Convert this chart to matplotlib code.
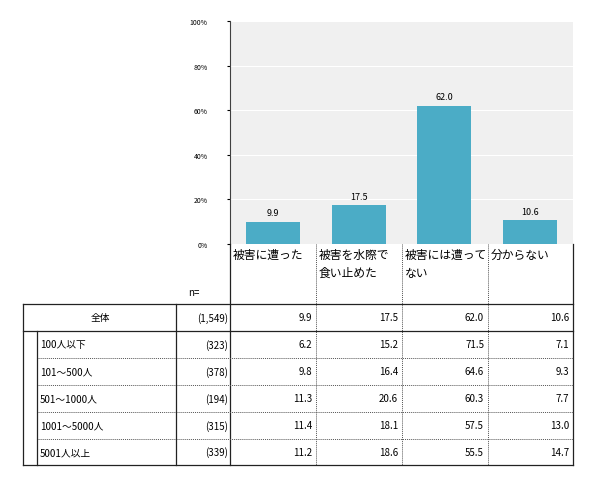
import matplotlib.pyplot as plt

plt.rcParams['font.family'] = ['Noto Sans CJK JP', 'DejaVu Sans']

categories = ['被害に遭った', '被害を水際で\n食い止めた', '被害には遭って\nない', '分からない']
total_values = [9.9, 17.5, 62.0, 10.6]
total_n = '(1,549)'
groups = ['100人以下', '101～500人', '501～1000人', '1001～5000人', '5001人以上']
group_n = ['(323)', '(378)', '(194)', '(315)', '(339)']
group_values = [
    [6.2, 15.2, 71.5, 7.1],
    [9.8, 16.4, 64.6, 9.3],
    [11.3, 20.6, 60.3, 7.7],
    [11.4, 18.1, 57.5, 13.0],
    [11.2, 18.6, 55.5, 14.7],
]
yticks = [0, 20, 40, 60, 80, 100]

W, H = 590, 481
fig = plt.figure(figsize=(W / 100, H / 100), dpi=100)

# bar chart, placed over the category columns
x0, x1, ytop, ybot = 230, 573, 22, 245
ax = fig.add_axes([x0 / W, 1 - ybot / H, (x1 - x0) / W, (ybot - ytop) / H])
ax.set_facecolor('#f0f0f0')
pos = range(len(categories))
bars = ax.bar(pos, total_values, width=0.63, color='#4bacc6', zorder=3)
for b, v in zip(bars, total_values):
    ax.text(b.get_x() + b.get_width() / 2, v + 2, f'{v:.1f}', ha='center',
            va='bottom', fontsize=6.5)
ax.set_xlim(-0.5, len(categories) - 0.5)
ax.set_ylim(0, 100)
ax.set_yticks(yticks)
ax.set_yticklabels([f'{t}%' for t in yticks], fontsize=5)
ax.tick_params(axis='y', length=2, pad=14)
ax.set_xticks([])
ax.grid(axis='y', color='white', linewidth=0.8, zorder=1)
for s in ['top', 'right', 'bottom']:
    ax.spines[s].set_visible(False)
ax.spines['left'].set_color('#404040')

# table overlay in pixel coordinates
t = fig.add_axes([0, 0, 1, 1], facecolor='none')
t.set_xlim(0, W)
t.set_ylim(H, 0)
t.axis('off')

col_edges = [230, 316, 402, 488, 573]
for i, c in enumerate(categories):
    t.text(col_edges[i] + 3, 249, c, ha='left', va='top', fontsize=8.5, linespacing=1.5)
t.text(188, 293, 'n=', ha='left', va='center', fontsize=7)
for xe in col_edges[1:-1]:
    t.plot([xe, xe], [245, 466], color='#555555', lw=0.7, ls=(0, (1, 1)))
for xe in (col_edges[0], col_edges[-1]):
    t.plot([xe, xe], [245, 466], color='#222222', lw=0.9)

row_edges = [305, 332, 359, 386, 413, 440, 466]
t.plot([23, 573], [305, 305], color='#222222', lw=0.9)
t.plot([23, 573], [332, 332], color='#222222', lw=0.9)
t.plot([23, 573], [466, 466], color='#222222', lw=0.9)
for y in row_edges[2:-1]:
    t.plot([37, 573], [y, y], color='#555555', lw=0.7, ls=(0, (1, 1)))
t.plot([23, 23], [305, 466], color='#222222', lw=0.9)
t.plot([37, 37], [332, 466], color='#222222', lw=0.9)
t.plot([176, 176], [305, 466], color='#222222', lw=0.9)

fs = 7
ymid = (row_edges[0] + row_edges[1]) / 2
t.text(100, ymid, '全体', ha='center', va='center', fontsize=fs)
t.text(228, ymid, total_n, ha='right', va='center', fontsize=fs)
for i, v in enumerate(total_values):
    t.text(col_edges[i + 1] - 4, ymid, f'{v:.1f}', ha='right', va='center', fontsize=fs)
for r, (g, n, vals) in enumerate(zip(groups, group_n, group_values)):
    ym = (row_edges[r + 1] + row_edges[r + 2]) / 2
    t.text(40, ym, g, ha='left', va='center', fontsize=fs)
    t.text(228, ym, n, ha='right', va='center', fontsize=fs)
    for i, v in enumerate(vals):
        t.text(col_edges[i + 1] - 4, ym, f'{v:.1f}', ha='right', va='center', fontsize=fs)

fig.savefig('out.png', dpi=100)
